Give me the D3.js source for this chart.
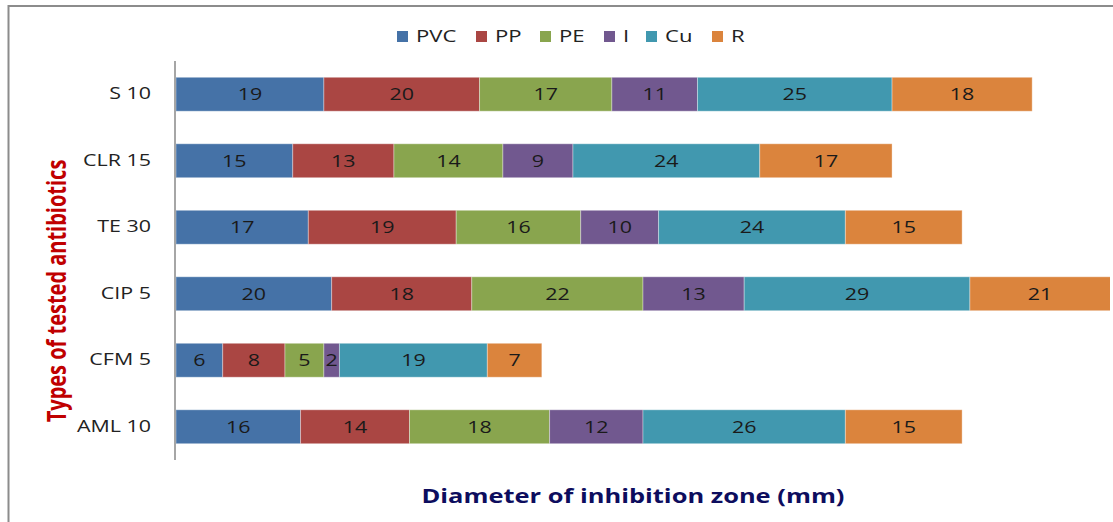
<!DOCTYPE html>
<html>
<head>
<meta charset="utf-8">
<script src="https://cdn.jsdelivr.net/npm/d3@7"></script>
<style>
  html, body { margin: 0; padding: 0; background: #fff; }
  svg { display: block; }
  text { font-family: "Open Sans", "Noto Sans", sans-serif; }
</style>
</head>
<body>
<svg id="chart" width="1113" height="522"></svg>
<script>
// Antibiotics tested (top to bottom) and the disc materials stacked in each bar
const categories = ["S 10", "CLR 15", "TE 30", "CIP 5", "CFM 5", "AML 10"];
const seriesNames = ["PVC", "PP", "PE", "I", "Cu", "R"];
const seriesColors = ["#4572A7", "#AA4643", "#89A54E", "#71588F", "#4198AF", "#DB843D"];

// Inhibition zone diameters (mm), one array per material, ordered as categories
const PVC = [19, 15, 17, 20, 6, 16];
const PP  = [20, 13, 19, 18, 8, 14];
const PE  = [17, 14, 16, 22, 5, 18];
const I   = [11, 9, 10, 13, 2, 12];
const Cu  = [25, 24, 24, 29, 19, 26];
const R   = [18, 17, 15, 21, 7, 15];
const xDomain = [0, 120];

const seriesValues = [PVC, PP, PE, I, Cu, R];
const rows = categories.map((c, i) => {
  const row = { cat: c };
  seriesNames.forEach((s, j) => row[s] = seriesValues[j][i]);
  return row;
});

// Text is drawn slightly widened horizontally
const SX = 1.34;

const svg = d3.select("#chart");

// Outer chart frame (left and top edges visible)
svg.append("path")
  .attr("d", "M8.5,522 V6 H1113")
  .attr("fill", "none")
  .attr("stroke", "#8c8c8c")
  .attr("stroke-width", 2);

const plot = { left: 176, right: 1110, top: 61, bottom: 460 };

const x = d3.scaleLinear().domain(xDomain).range([plot.left, plot.right]);
const y = d3.scaleBand().domain(categories).range([plot.top, plot.bottom]).paddingInner(0.49).paddingOuter(0.245);

const stack = d3.stack().keys(seriesNames);
const layers = stack(rows);

svg.append("clipPath").attr("id", "plotClip")
  .append("rect")
  .attr("x", plot.left).attr("y", plot.top)
  .attr("width", plot.right - plot.left).attr("height", plot.bottom - plot.top);

const g = svg.append("g").attr("clip-path", "url(#plotClip)");

layers.forEach((layer, li) => {
  const lg = g.append("g");
  lg.selectAll("rect")
    .data(layer)
    .join("rect")
    .attr("x", d => x(d[0]))
    .attr("y", d => y(d.data.cat))
    .attr("width", d => x(d[1]) - x(d[0]))
    .attr("height", y.bandwidth())
    .attr("fill", seriesColors[li])
    .attr("stroke", "rgba(255,255,255,0.35)")
    .attr("stroke-width", 1);

  lg.selectAll("text")
    .data(layer)
    .join("text")
    .attr("transform", d => {
      const cx = (x(d[0]) + Math.min(x(d[1]), plot.right)) / 2;
      const cy = y(d.data.cat) + y.bandwidth() / 2;
      return `translate(${cx},${cy}) scale(${SX},1)`;
    })
    .attr("dy", "0.36em")
    .attr("text-anchor", "middle")
    .attr("font-size", 16)
    .attr("fill", "#1a1a1a")
    .text(d => d[1] - d[0]);
});

// Category axis (line without ticks)
const pad = 25;
const yAxis = svg.append("g")
  .attr("transform", `translate(${plot.left},0)`)
  .call(d3.axisLeft(y).tickSize(0).tickPadding(pad));
yAxis.select(".domain").attr("stroke", "#a6a6a6").attr("stroke-width", 2)
  .attr("d", `M-1,${plot.top}V${plot.bottom}`);
yAxis.selectAll(".tick text")
  .attr("x", 0)
  .attr("transform", `translate(${-pad},0) scale(${SX},1)`)
  .attr("font-size", 16)
  .attr("fill", "#222")
  .attr("font-family", "\"Open Sans\", \"Noto Sans\", sans-serif");

// Legend
const legendX = [397, 476, 540, 604, 646, 712];
const legend = svg.append("g");
seriesNames.forEach((s, i) => {
  const lg = legend.append("g").attr("transform", `translate(${legendX[i]},36)`);
  lg.append("rect").attr("x", 0).attr("y", -5).attr("width", 11).attr("height", 11)
    .attr("fill", seriesColors[i]);
  lg.append("text")
    .attr("transform", `translate(19,0) scale(${SX},1)`)
    .attr("dy", "0.36em")
    .attr("font-size", 16.5).attr("fill", "#222").text(s);
});

// Axis titles
svg.append("text")
  .attr("transform", `translate(66,291) scale(${SX},1) rotate(-90)`)
  .attr("text-anchor", "middle")
  .attr("font-size", 20)
  .attr("font-weight", "bold")
  .attr("fill", "#C00000")
  .text("Types of tested antibiotics");

svg.append("text")
  .attr("transform", `translate(633,503) scale(${SX},1)`)
  .attr("text-anchor", "middle")
  .attr("font-size", 19)
  .attr("font-weight", "bold")
  .attr("fill", "#0d0d5e")
  .text("Diameter of inhibition zone (mm)");
</script>
</body>
</html>
